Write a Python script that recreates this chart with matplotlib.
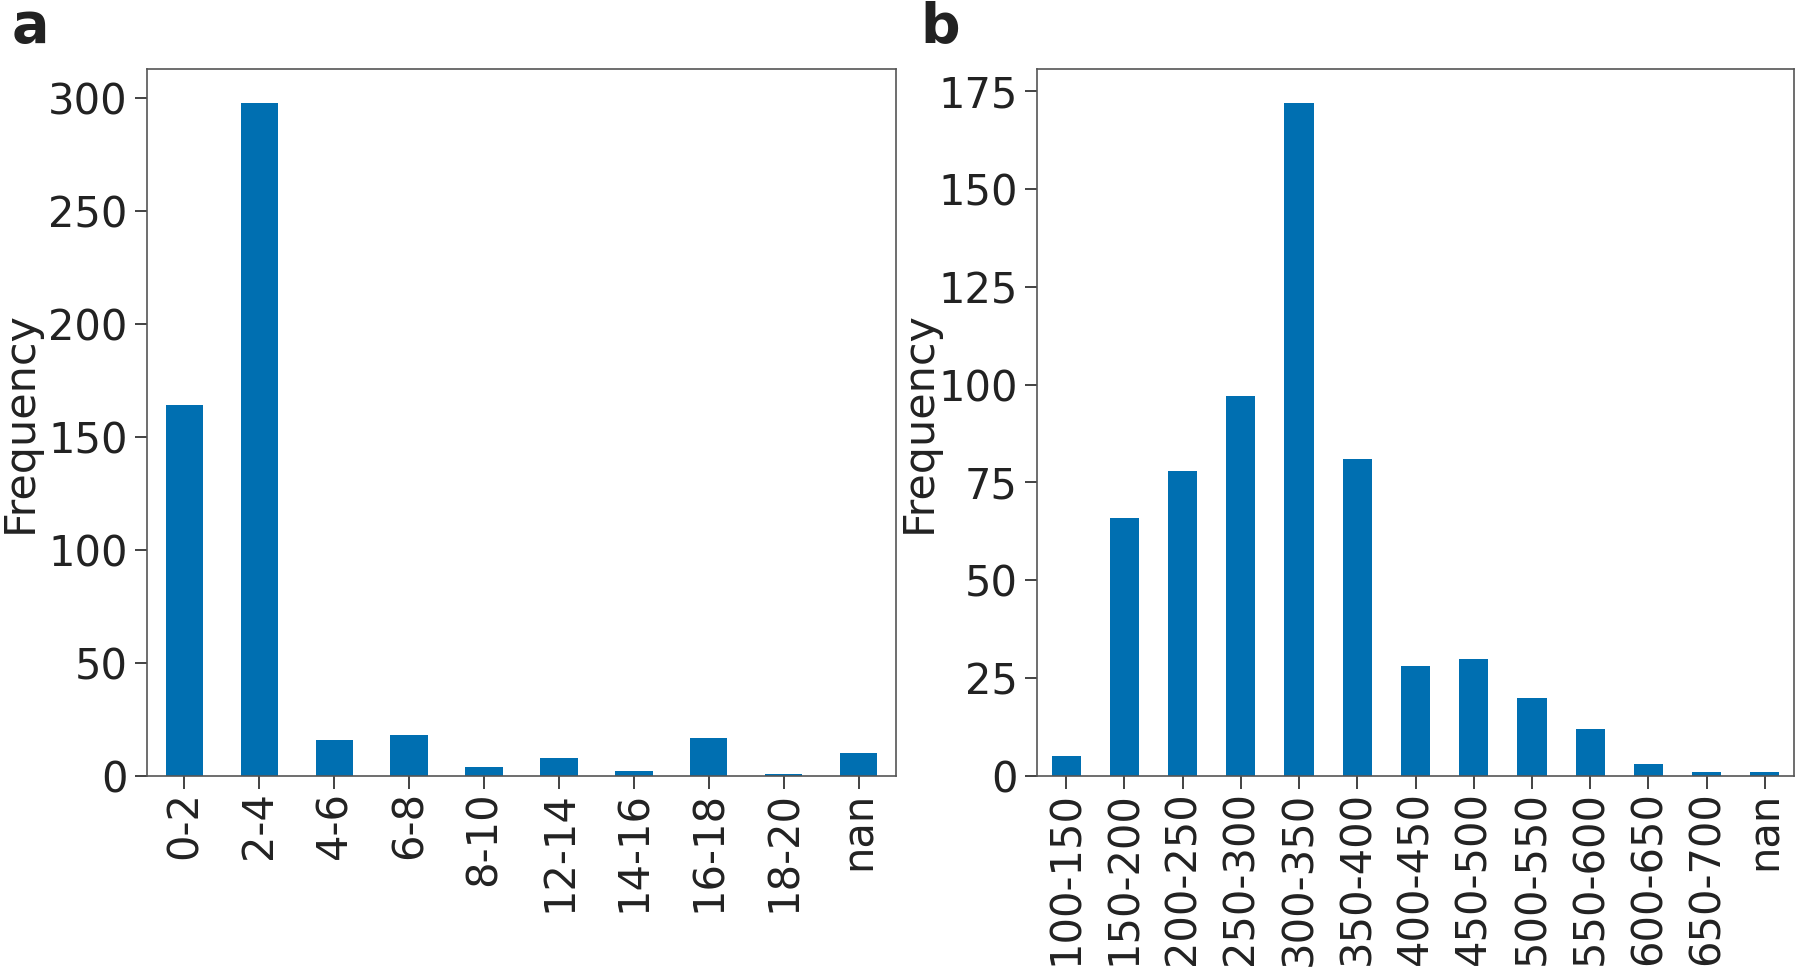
import numpy as np
import matplotlib.pyplot as plt

# data
cats_a = ['0-2', '2-4', '4-6', '6-8', '8-10', '12-14', '14-16', '16-18', '18-20', 'nan']
vals_a = [164, 298, 16, 18, 4, 8, 2, 17, 1, 10]

cats_b = ['100-150', '150-200', '200-250', '250-300', '300-350', '350-400', '400-450',
          '450-500', '500-550', '550-600', '600-650', '650-700', 'nan']
vals_b = [5, 66, 78, 97, 172, 81, 28, 30, 20, 12, 3, 1, 1]

bar_color = '#006fb1'

fig = plt.figure(figsize=(18, 9.73), dpi=100)
ax1 = fig.add_axes([147 / 1800, 1 - 776 / 973, (896 - 147) / 1800, (776 - 69) / 973])
ax2 = fig.add_axes([1037 / 1800, 1 - 776 / 973, (1794 - 1037) / 1800, (776 - 69) / 973])


def draw(ax, cats, vals, yticks, labelx):
    x = np.arange(len(cats))
    ax.bar(x, vals, width=0.5, color=bar_color)
    ax.set_xlim(-0.5, len(cats) - 0.5)
    ax.set_ylim(0, max(vals) * 1.05)
    ax.set_xticks(x)
    ax.set_xticklabels(cats, rotation=90)
    ax.set_yticks(yticks)
    ax.tick_params(labelsize=30, length=9, width=1.2, colors='#222222', pad=5)
    ax.tick_params(axis='x', pad=2)
    ax.set_ylabel('Frequency', fontsize=31, color='#222222')
    ax.yaxis.set_label_coords(labelx, 0.5)
    for s in ax.spines.values():
        s.set_color('#555555')
        s.set_linewidth(1.2)


draw(ax1, cats_a, vals_a, [0, 50, 100, 150, 200, 250, 300], -0.142)
draw(ax2, cats_b, vals_b, [0, 25, 50, 75, 100, 125, 150, 175], -0.128)

fig.text(12 / 1800, 1 - 42 / 973, 'a', fontsize=40, fontweight='bold', color='#222222')
fig.text(920 / 1800, 1 - 42 / 973, 'b', fontsize=40, fontweight='bold', color='#222222')

fig.savefig('out.png', dpi=100)
